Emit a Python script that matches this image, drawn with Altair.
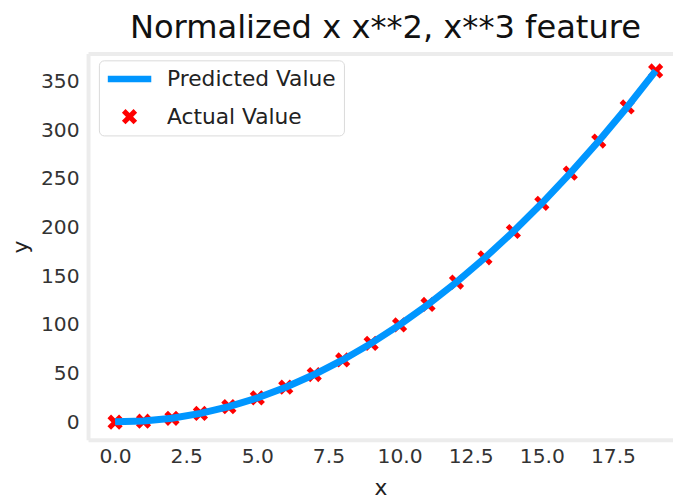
import altair as alt
import pandas as pd

# ---- data ----
x_vals = [0, 1, 2, 3, 4, 5, 6, 7, 8, 9, 10, 11, 12, 13, 14, 15, 16, 17, 18, 19]
actual_vals = [0, 1, 4, 9, 16, 25, 36, 49, 64, 81, 100, 121, 144, 169, 196, 225, 256, 289, 324, 361]
predicted_vals = [0.4, 1.2, 4.1, 9.0, 16.0, 25.0, 36.0, 49.0, 64.0, 81.0, 100.0, 121.0,
                  144.0, 169.0, 196.0, 225.0, 256.0, 289.0, 324.0, 361.0]
x_ticks = [0.0, 2.5, 5.0, 7.5, 10.0, 12.5, 15.0, 17.5]
y_ticks = [0, 50, 100, 150, 200, 250, 300, 350]
series_names = ["Predicted Value", "Actual Value"]
series_colors = ["#0096ff", "#ff0000"]

df = pd.DataFrame({"x": x_vals, "actual": actual_vals, "predicted": predicted_vals})

FONT = "DejaVu Sans"
SPINE = "#ececec"
BAR = "M -2 -0.3 L 2 -0.3 L 2 0.3 L -2 0.3 Z"
XMARK = ("M -0.7 -0.37 L -0.37 -0.7 L 0 -0.33 L 0.37 -0.7 L 0.7 -0.37 L 0.33 0 "
         "L 0.7 0.37 L 0.37 0.7 L 0 0.33 L -0.37 0.7 L -0.7 0.37 L -0.33 0 Z")

xscale = alt.Scale(domain=[-0.95, 19.61], nice=False, zero=False)
yscale = alt.Scale(domain=[-18.05, 379.05], nice=False, zero=False)

legend = alt.Legend(
    title=None, orient="none", legendX=11, legendY=7, direction="vertical",
    labelFont=FONT, labelFontSize=22, labelColor="#222222", labelLimit=400,
    labelOffset=27, symbolOffset=12, symbolSize=484, symbolStrokeWidth=0, symbolOpacity=1,
    rowPadding=16, padding=8, fillColor="rgba(255,255,255,0.8)",
    strokeColor="#d9d9d9", cornerRadius=5,
)
color = alt.Color("series:N", scale=alt.Scale(domain=series_names, range=series_colors), legend=legend)
shape = alt.Shape("series:N", scale=alt.Scale(domain=series_names, range=[BAR, XMARK]), legend=legend)

bottom_axis = alt.Axis(
    values=x_ticks, format=".1f", title="x", grid=False, ticks=False, tickSize=0,
    domainColor=SPINE, domainWidth=4, labelPadding=7, titlePadding=11,
    labelFont=FONT, labelFontSize=20.5, labelColor="#333333",
    titleFont=FONT, titleFontSize=22, titleFontWeight="normal", titleColor="#222222",
)
top_axis = alt.Axis(
    orient="top", labels=False, ticks=False, tickSize=0, title=None, grid=False,
    domainColor=SPINE, domainWidth=4,
)
y_axis = alt.Axis(
    values=y_ticks, title="y", grid=False, ticks=False, tickSize=0,
    domainColor=SPINE, domainWidth=4, labelPadding=9, titlePadding=8,
    labelFont=FONT, labelFontSize=20.5, labelColor="#333333",
    titleFont=FONT, titleFontSize=22, titleFontWeight="normal", titleColor="#222222",
)

points = alt.Chart(df).transform_calculate(series="'Actual Value'").mark_point(
    filled=True, opacity=1, size=484, strokeWidth=0
).encode(
    x=alt.X("x:Q", scale=xscale, axis=bottom_axis),
    y=alt.Y("actual:Q", scale=yscale, axis=y_axis),
    color=color,
    shape=shape,
)

line = alt.Chart(df).transform_calculate(series="'Predicted Value'").mark_line(
    strokeWidth=7
).encode(
    x=alt.X("x:Q", scale=xscale, axis=top_axis),
    y=alt.Y("predicted:Q", scale=yscale, axis=y_axis),
    color=color,
)

chart = alt.layer(points, line).resolve_axis(x="independent").properties(
    width=592, height=391,
    title=alt.Title("Normalized x x**2, x**3 feature", font=FONT, fontSize=32.5,
                    fontWeight="normal", color="#111111", anchor="middle",
                    dx=5, dy=28, offset=11, baseline="alphabetic"),
    padding={"left": 81, "top": 43, "right": 0, "bottom": 58},
    autosize=alt.AutoSizeParams(type="none"),
).configure_view(stroke=None)

chart.save("out.html", embed_options={"renderer": "svg", "actions": False})
